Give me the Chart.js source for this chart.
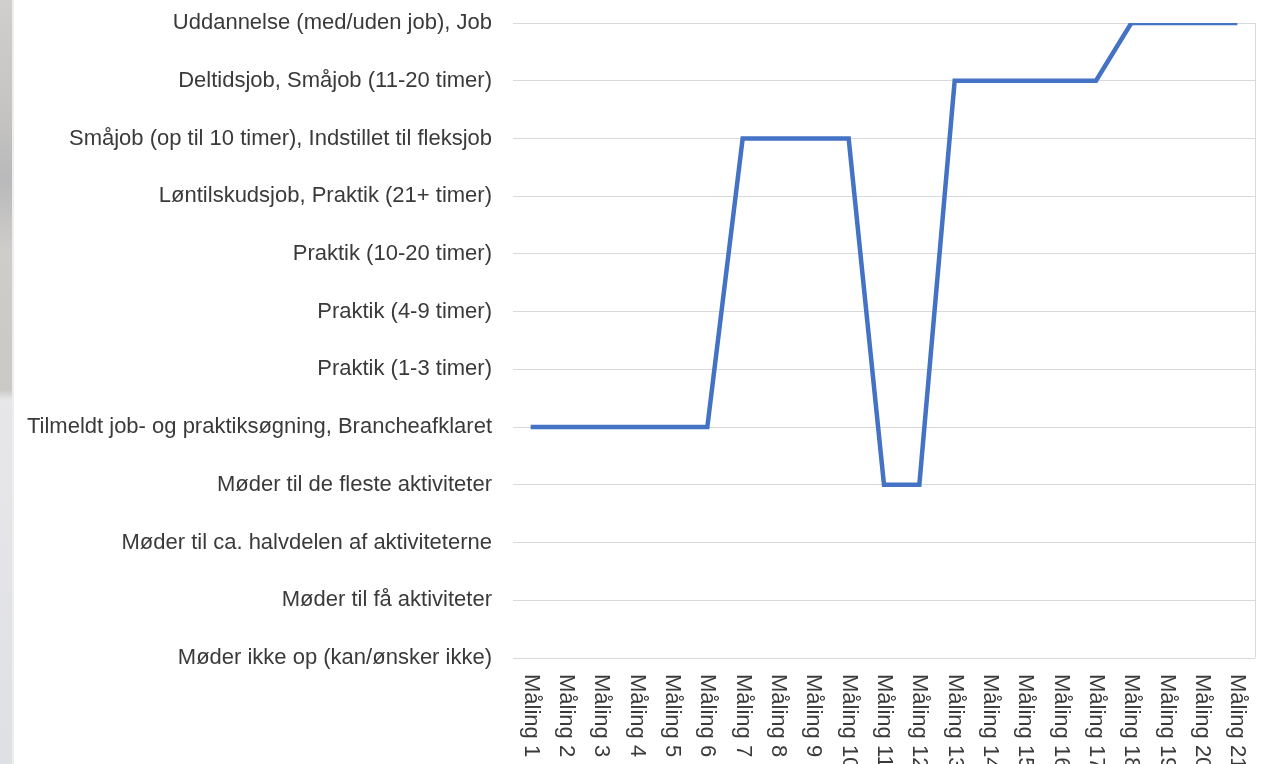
<!DOCTYPE html>
<html>
<head>
<meta charset="utf-8">
<script src="https://cdn.jsdelivr.net/npm/chart.js@4/dist/chart.umd.min.js"></script>
<style>
  html, body { margin: 0; padding: 0; background: #ffffff; }
  #wrap { position: relative; width: 1277px; height: 764px; overflow: hidden; }
  #strip { position: absolute; left: 0; top: 0; width: 12px; height: 764px;
    background: linear-gradient(to bottom, #d0cfcd 0px, #c4c3c1 120px, #b9b9bb 180px, #cfcdca 250px, #cbc9c6 390px, #e7e7ea 400px, #dfe0e4 764px); }
  #strip2 { position: absolute; left: 12px; top: 0; width: 2px; height: 764px; background: #eeeeee; }
  canvas { position: absolute; left: 0; top: 0; }
</style>
</head>
<body>
<div id="wrap">
  <canvas id="c" width="1277" height="764"></canvas>
  <div id="strip"></div><div id="strip2"></div>
</div>
<script>
const categories = ["Måling 1","Måling 2","Måling 3","Måling 4","Måling 5","Måling 6","Måling 7","Måling 8","Måling 9","Måling 10","Måling 11","Måling 12","Måling 13","Måling 14","Måling 15","Måling 16","Måling 17","Måling 18","Måling 19","Måling 20","Måling 21"];
const levelLabels = [
  "Møder ikke op (kan/ønsker ikke)",
  "Møder til få aktiviteter",
  "Møder til ca. halvdelen af aktiviteterne",
  "Møder til de fleste aktiviteter",
  "Tilmeldt job- og praktiksøgning, Brancheafklaret",
  "Praktik (1-3 timer)",
  "Praktik (4-9 timer)",
  "Praktik (10-20 timer)",
  "Løntilskudsjob, Praktik (21+ timer)",
  "Småjob (op til 10 timer), Indstillet til fleksjob",
  "Deltidsjob, Småjob (11-20 timer)",
  "Uddannelse (med/uden job), Job"
];
const values = [4,4,4,4,4,4,9,9,9,9,3,3,10,10,10,10,10,11,11,11,11];

const FONT = "'Liberation Sans', Arial, sans-serif";
const FONT_SIZE = 22;
const TEXT = "#3a3a3a";
const GRID = "#d9d9d9";

const xLabelsPlugin = {
  id: 'xLabelsPlugin',
  afterDraw(chart) {
    const ctx = chart.ctx;
    const xs = chart.scales.x;
    const area = chart.chartArea;
    ctx.save();
    ctx.strokeStyle = GRID;
    ctx.lineWidth = 1;
    ctx.beginPath();
    ctx.moveTo(Math.round(area.right) + 0.5, area.top);
    ctx.lineTo(Math.round(area.right) + 0.5, area.bottom);
    ctx.stroke();
    ctx.fillStyle = TEXT;
    ctx.font = FONT_SIZE + "px " + FONT;
    ctx.textAlign = 'left';
    ctx.textBaseline = 'middle';
    categories.forEach((lab, i) => {
      const x = xs.getPixelForValue(i);
      ctx.save();
      ctx.translate(x, area.bottom + 16);
      ctx.rotate(Math.PI / 2);
      ctx.fillText(lab, 0, 0);
      ctx.restore();
    });
    ctx.restore();
  }
};

new Chart(document.getElementById('c'), {
  type: 'line',
  data: {
    labels: categories,
    datasets: [{
      data: values,
      borderColor: '#4472C4',
      borderWidth: 4.5,
      pointRadius: 0,
      tension: 0,
      fill: false,
      borderJoinStyle: 'miter'
    }]
  },
  options: {
    responsive: false,
    animation: false,
    devicePixelRatio: 1,
    layout: { padding: { top: 23, right: 22, left: 0, bottom: 0 } },
    plugins: { legend: { display: false }, tooltip: { enabled: false } },
    scales: {
      x: {
        type: 'category',
        offset: true,
        grid: { display: false },
        border: { display: false },
        ticks: { display: false },
        afterFit(scale) { scale.height = 106; scale.paddingTop = 0; scale.paddingBottom = 0; }
      },
      y: {
        type: 'linear',
        min: 0,
        max: 11,
        afterFit(scale) { scale.width = 513; scale.paddingTop = 0; scale.paddingBottom = 0; },
        grid: { color: GRID, lineWidth: 1, drawTicks: false },
        border: { display: false },
        ticks: {
          stepSize: 1,
          padding: 21,
          color: TEXT,
          font: { family: FONT, size: FONT_SIZE },
          callback: (v) => levelLabels[v]
        }
      }
    }
  },
  plugins: [xLabelsPlugin]
});
</script>
</body>
</html>
